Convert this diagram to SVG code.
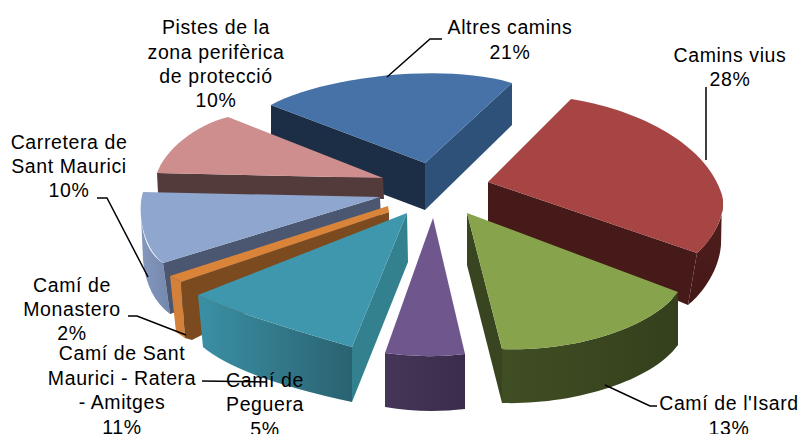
<svg xmlns="http://www.w3.org/2000/svg" width="802" height="434" viewBox="0 0 802 434">
<style>
.lbl{font-family:"Liberation Sans",Arial,sans-serif;font-size:19.5px;letter-spacing:0.6px;fill:#000;text-anchor:middle}
.ldr{fill:none;stroke:#000;stroke-width:1.5}
</style>
<defs>
<linearGradient id="gTeal" x1="0" y1="0" x2="1" y2="0"><stop offset="0" stop-color="#3B90A5"/><stop offset="1" stop-color="#2A6271"/></linearGradient>
<linearGradient id="gGreen" x1="0" y1="0" x2="1" y2="0"><stop offset="0" stop-color="#404E24"/><stop offset="1" stop-color="#34401C"/></linearGradient>
<linearGradient id="gPurple" x1="0" y1="0" x2="1" y2="0"><stop offset="0" stop-color="#453659"/><stop offset="1" stop-color="#3A2C4A"/></linearGradient>
<linearGradient id="gRed" x1="0" y1="0" x2="0" y2="1"><stop offset="0" stop-color="#521F1E"/><stop offset="1" stop-color="#431817"/></linearGradient>
<linearGradient id="gLB" x1="0" y1="0" x2="1" y2="0"><stop offset="0" stop-color="#8498BD"/><stop offset="1" stop-color="#7488AD"/></linearGradient>
</defs>

<g id="slice-altres-camins">
<path d="M271,105 L425,163 L425,210 L271,152 Z" fill="#1C2D46"/>
<path d="M425,163 L512,83 L512,125 L425,210 Z" fill="#2E5179"/>
<path d="M425,163 L271,105 C320,78 440,62 512,83 Z" fill="#4672A7"/>
<text class="lbl" x="510" y="34.3">Altres camins</text>
<text class="lbl" x="510" y="58.7">21%</text>
</g>

<g id="slice-camins-vius">
<path d="M488,182 L697,253 L688,305 L488,222 Z" fill="#461A19"/>
<path d="M722,197 L721,245 C719,272 700,296 688,305 L697,253 C712,240 727,215 722,197 Z" fill="url(#gRed)"/>
<path d="M488,182 L571,99 C630,108 705,140 722,195 C727,215 712,240 697,253 Z" fill="#A64543"/>
<text class="lbl" x="730" y="61.5">Camins vius</text>
<text class="lbl" x="730" y="85.8">28%</text>
</g>

<g id="slice-pistes">
<path d="M157,173 L383,178 L384,199 L158,193 Z" fill="#533A3B"/>
<path d="M383,178 L228,117 C195,125 165,150 157,173 Z" fill="#CE8E8D"/>
<text class="lbl" x="216" y="34.3">Pistes de la</text>
<text class="lbl" x="216" y="58.6">zona perifèrica</text>
<text class="lbl" x="216" y="82.9">de protecció</text>
<text class="lbl" x="216" y="107.2">10%</text>
</g>

<g id="slice-carretera">
<path d="M141,215 C142,238 150,255 163,263 L170,314 C155,303 145,284 143,260 Z" fill="url(#gLB)"/>
<path d="M163,263 L380,197 L382,243 L170,314 Z" fill="#4B5770"/>
<path d="M380,197 L143,192 C136,215 145,250 163,263 Z" fill="#8FA6CE"/>
<text class="lbl" x="69" y="149.3">Carretera de</text>
<text class="lbl" x="69" y="173.3">Sant Maurici</text>
<text class="lbl" x="69" y="197.3">10%</text>
</g>

<g id="slice-monastero">
<path d="M170,276 L181,282 L185,338 L176,332 Z" fill="#D2803A"/>
<path d="M181,282 L389,212 L389,240 L192,340 L185,338 Z" fill="#7B4B1F"/>
<path d="M170,276 L388,206 L389,212 L181,282 Z" fill="#DA843A"/>
<text class="lbl" x="72" y="291.5">Camí de</text>
<text class="lbl" x="72" y="315.7">Monastero</text>
<text class="lbl" x="72" y="340">2%</text>
</g>

<g id="slice-sant-maurici">
<path d="M407,213 L408,262 L352,402 L352,347 Z" fill="#33808F"/>
<path d="M198,295 Q230,312 352,347 L352,402 Q240,378 203,347 Z" fill="url(#gTeal)"/>
<path d="M407,213 L198,295 Q230,312 352,347 Z" fill="#3F97AE"/>
<text class="lbl" x="122" y="360">Camí de Sant</text>
<text class="lbl" x="122" y="384.5">Maurici - Ratera</text>
<text class="lbl" x="122" y="409">- Amitges</text>
<text class="lbl" x="122" y="433.5">11%</text>
</g>

<g id="slice-isard">
<path d="M467,213 L502,349 L502,403 L467,265 Z" fill="#394520"/>
<path d="M502,349 C570,352 650,330 678,292 L678,345 C650,383 570,405 502,403 Z" fill="url(#gGreen)"/>
<path d="M467,213 L678,292 C650,330 570,352 502,349 Z" fill="#87A34B"/>
<text class="lbl" x="729" y="410">Camí de l'Isard</text>
<text class="lbl" x="729" y="434.5">13%</text>
</g>

<g id="slice-peguera">
<path d="M385,353 Q425,359 465,354 L465,409 Q425,414 385,407 Z" fill="url(#gPurple)"/>
<path d="M433,218 L465,354 Q425,359 385,353 Z" fill="#6F578E"/>
<text class="lbl" x="265" y="386.5">Camí de</text>
<text class="lbl" x="265" y="411">Peguera</text>
<text class="lbl" x="265" y="435.5">5%</text>
</g>

<g id="connectors">
<path class="ldr" d="M442,39 L430,39 L387,77"/>
<path class="ldr" d="M706,87 L706,160"/>
<path class="ldr" d="M97,198 L107,198 L148,277"/>
<path class="ldr" d="M128,316 L137,316 L186,335"/>
<path class="ldr" d="M202,381 L267,382"/>
<path class="ldr" d="M657,406 L650,406 L605,385"/>
</g>
</svg>
